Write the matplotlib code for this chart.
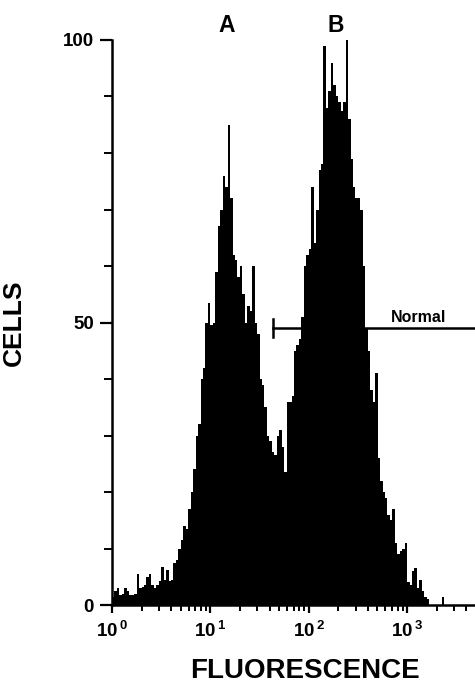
import matplotlib
matplotlib.use("Agg")
import matplotlib.pyplot as plt
import numpy as np
from matplotlib.ticker import FixedLocator, LogLocator, NullFormatter

plt.rcParams["font.family"] = ["Liberation Sans", "DejaVu Sans"]
plt.rcParams["font.weight"] = "bold"
plt.rcParams["mathtext.fontset"] = "custom"
plt.rcParams["mathtext.rm"] = "Liberation Sans:bold"
plt.rcParams["mathtext.bf"] = "Liberation Sans:bold"

# log channels, 0.025 decade each, starting at 10^0
CHANNEL_WIDTH_DECADES = 0.025
cell_counts = [
    1.5, 2.5, 3.0, 1.8, 2.0, 3.0, 2.5, 1.8, 1.8, 2.0,
    5.5, 3.0, 3.2, 3.5, 5.0, 5.5, 3.5, 3.0, 3.5, 4.2,
    6.8, 4.5, 6.2, 4.2, 4.5, 7.5, 8.0, 10.0, 11.5, 14.0,
    13.5, 17.0, 20.0, 24.0, 30.0, 32.0, 40.0, 42.0, 50.0, 53.5,
    49.5, 50.0, 59.0, 67.0, 70.0, 76.0, 74.0, 85.0, 72.0, 62.0,
    61.0, 58.0, 60.0, 55.0, 50.0, 53.0, 52.0, 60.0, 50.0, 48.0,
    40.0, 39.0, 35.0, 30.0, 29.0, 27.0, 26.5, 30.0, 31.0, 28.0,
    23.5, 36.0, 36.0, 37.0, 45.0, 46.0, 47.0, 51.0, 60.0, 62.0,
    63.0, 74.0, 64.0, 70.0, 77.0, 78.0, 99.0, 88.0, 91.0, 96.0,
    92.0, 90.0, 89.0, 87.5, 89.0, 100.0, 86.0, 79.0, 74.0, 72.0,
    72.0, 70.0, 60.0, 49.0, 45.0, 38.0, 36.0, 41.0, 26.0, 22.0,
    20.0, 19.0, 16.0, 15.0, 17.0, 11.0, 9.0, 9.5, 10.0, 11.0,
    4.0, 3.5, 6.0, 6.5, 3.0, 4.5, 2.5, 1.5, 1.0, 0.0,
    0.0, 0.0, 0.0, 0.0, 1.5, 0.0, 0.0, 0.0, 0.0, 0.0,
]

peak_labels = ["A", "B"]
peak_positions = [14.5, 190.0]

normal_gate = (43.0, 4900.0)
normal_level = 49.0
normal_label_pos = 1300.0

y_major = [0, 50, 100]
y_minor = [10, 20, 30, 40, 60, 70, 80, 90]
x_major = [1, 10, 100, 1000]
x_tick_labels = [r"$10^{\,0}$", r"$10^{\,1}$", r"$10^{\,2}$", r"$10^{\,3}$"]
x_max = 4900.0


def main() -> None:
    counts = np.asarray(cell_counts)
    edges = 10.0 ** (np.arange(len(counts) + 1) * CHANNEL_WIDTH_DECADES)

    fig = plt.figure(figsize=(4.75, 6.84), dpi=100)
    ax = fig.add_axes([112 / 475, 79 / 684, 363 / 475, 565 / 684])

    ax.stairs(counts, edges, fill=True, color="black", linewidth=0)

    ax.set_xscale("log")
    ax.set_xlim(1, x_max)
    ax.set_ylim(0, 100)

    for side in ("top", "right"):
        ax.spines[side].set_visible(False)
    for side in ("left", "bottom"):
        ax.spines[side].set_linewidth(1.8)

    ax.xaxis.set_major_locator(FixedLocator(x_major))
    ax.set_xticklabels(x_tick_labels, fontsize=13.5)
    ax.xaxis.set_minor_locator(LogLocator(base=10, subs=np.arange(2, 10)))
    ax.xaxis.set_minor_formatter(NullFormatter())
    ax.yaxis.set_major_locator(FixedLocator(y_major))
    ax.yaxis.set_minor_locator(FixedLocator(y_minor))
    ax.set_yticklabels([str(v) for v in y_major], fontsize=13.5, fontweight="bold")

    ax.tick_params(axis="x", which="major", direction="out", length=6, width=1.6, pad=5)
    ax.tick_params(axis="x", which="minor", direction="out", length=4, width=1.4)
    ax.tick_params(axis="y", which="major", direction="out", length=9, width=1.6, pad=4)
    ax.tick_params(axis="y", which="minor", direction="out", length=6, width=1.4)

    ax.set_xlabel("FLUORESCENCE", fontsize=20, fontweight="bold")
    ax.xaxis.set_label_coords(0.532, -0.093)
    ax.set_ylabel("CELLS", fontsize=19, fontweight="bold")
    ax.yaxis.set_label_coords(-0.237, 0.5)

    # Normal gate marker
    ax.plot(normal_gate, [normal_level, normal_level], color="black", lw=1.8, clip_on=False)
    ax.plot([normal_gate[0], normal_gate[0]], [normal_level - 1.6, normal_level + 1.6],
            color="black", lw=1.8, clip_on=False)
    ax.text(normal_label_pos, normal_level + 0.6, "Normal", fontsize=11.5, fontweight="bold",
            ha="center", va="bottom", zorder=5)

    for label, pos in zip(peak_labels, peak_positions):
        ax.text(pos, 102.5, label, fontsize=16.5, fontweight="bold", ha="center", va="center",
                clip_on=False)

    fig.savefig("out.png", dpi=100)
    plt.close(fig)


if __name__ == "__main__":
    main()
